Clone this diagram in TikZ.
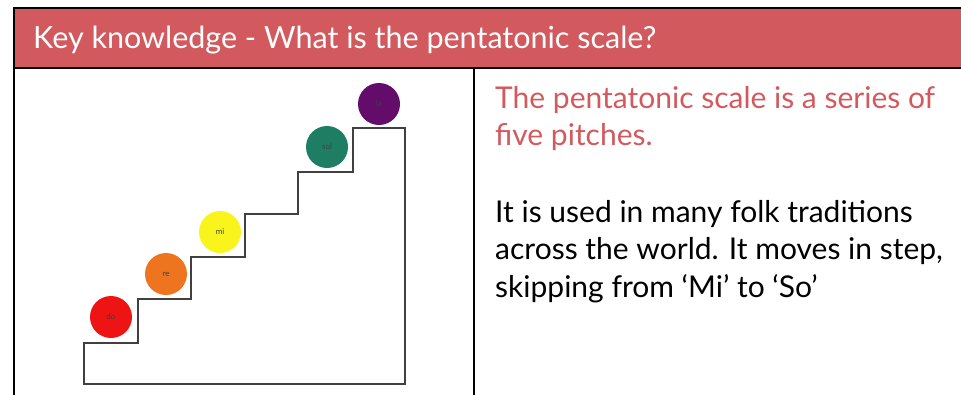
\documentclass[tikz,border=0pt]{standalone}
\usepackage{fontspec}
\setmainfont{Lato}
\usepackage{tikz}
\usetikzlibrary{positioning}
\definecolor{keyred}{HTML}{D25A5E}
\definecolor{dored}{HTML}{EE1414}
\definecolor{reorange}{HTML}{EE7420}
\definecolor{miyellow}{HTML}{F8F41C}
\definecolor{solgreen}{HTML}{1E7E64}
\definecolor{lapurple}{HTML}{640C6A}
\tikzset{
  note/.style={
    circle,
    minimum size=42pt,
    inner sep=0pt,
    font=\fontsize{8}{9}\selectfont,
    text=black!75
  },
  stair/.style={draw=black!75, line width=1.6pt, line join=miter},
  rule/.style={draw=black, line width=2pt},
  body/.style={
    anchor=north west,
    align=left,
    inner sep=0pt,
    font=\fontsize{30}{37.5}\selectfont
  }
}

\begin{document}
\begin{tikzpicture}[x=1pt,y=-1pt]
  \useasboundingbox (0,0) rectangle (961,394);
  \clip (0,0) rectangle (961,394);
  % frame and header band
  \fill[keyred] (14,8) rectangle (970,68);
  \draw[rule] (970,8) -- (14,8) -- (14,400);
  \draw[rule] (14,68) -- (970,68);
  \draw[rule] (474,68) -- (474,400);
  \node[anchor=base west, text=white, inner sep=0pt, font=\fontsize{30.5}{36}\selectfont]
    (title) at (33,48) {Key knowledge - What is the pentatonic scale?};
  % staircase
  \draw[stair] (84,384) -- (84,343) -- (138,343) -- (138,299) -- (191,299)
    -- (191,257) -- (245,257) -- (245,214) -- (298,214) -- (298,172)
    -- (353,172) -- (353,128) -- (405,128) -- (405,384) -- cycle;
  \node[note, fill=dored] (do) at (111,317) {do};
  \node[note, fill=reorange] (re) at (166,274) {re};
  \node[note, fill=miyellow] (mi) at (220,232) {mi};
  \node[note, fill=solgreen] (sol) at (327,147) {sol};
  \node[note, fill=lapurple] (la) at (379,104) {la};
  % text column
  \node[body, text=keyred] (fact) at (495,86)
    {The pentatonic scale is a series of\\five pitches.};
  \node[body] (about) at (495,200)
    {It is used in many folk traditions\\across the world. It moves in step,\\skipping from `Mi' to `So'};
\end{tikzpicture}
\end{document}
